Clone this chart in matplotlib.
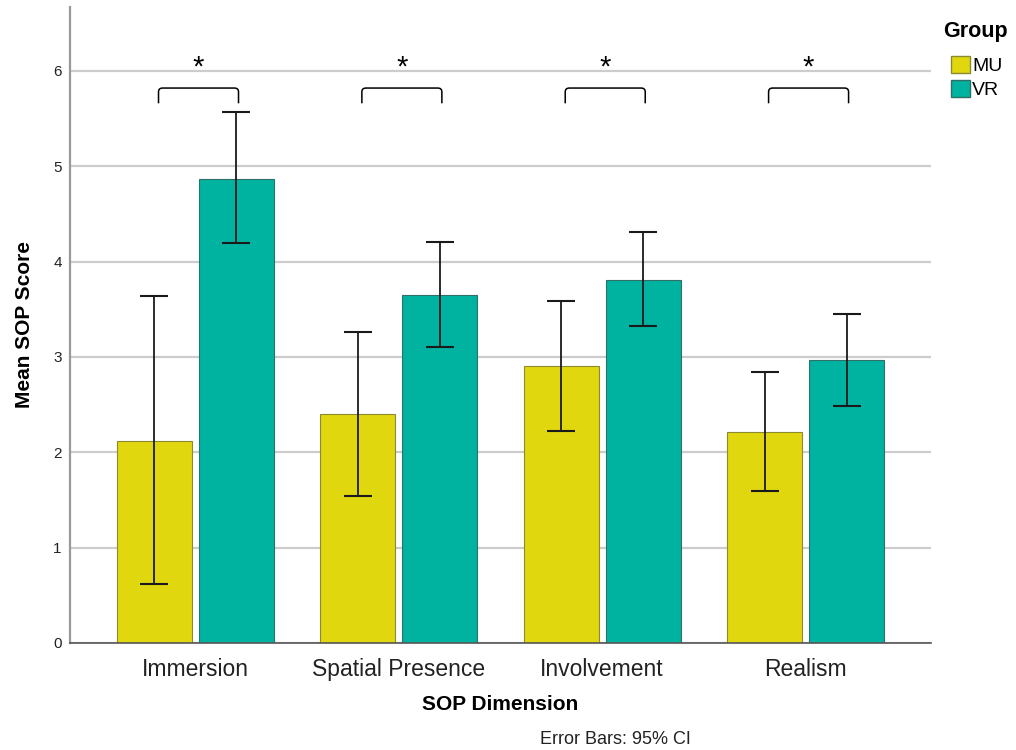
import matplotlib
matplotlib.use("Agg")
import matplotlib.pyplot as plt
from matplotlib.patches import Patch
from matplotlib.path import Path
from matplotlib.patches import PathPatch
import numpy as np

plt.rcParams['font.family'] = ['Liberation Sans', 'DejaVu Sans']

categories = ["Immersion", "Spatial Presence", "Involvement", "Realism"]
groups = ["MU", "VR"]
mu_mean = [2.12, 2.40, 2.91, 2.21]
mu_lo = [0.62, 1.54, 2.22, 1.59]
mu_hi = [3.64, 3.26, 3.59, 2.84]
vr_mean = [4.87, 3.65, 3.81, 2.97]
vr_lo = [4.20, 3.10, 3.32, 2.49]
vr_hi = [5.57, 4.21, 4.31, 3.45]
sig_labels = ["*", "*", "*", "*"]
yticks = [0, 1, 2, 3, 4, 5, 6]

colors = {"MU": "#E1D70F", "VR": "#00B3A0"}
edges = {"MU": "#8a8a30", "VR": "#2f6f66"}

fig = plt.figure(figsize=(10.16, 7.5), dpi=100)
ax = fig.add_axes([70/1016, 1-643/750, (931-70)/1016, (643-7)/750])

x = np.arange(len(categories))
w = 0.369
off = 0.2017

for g, means, lo, hi, sgn in [("MU", mu_mean, mu_lo, mu_hi, -1), ("VR", vr_mean, vr_lo, vr_hi, 1)]:
    xs = x + sgn * off
    ax.bar(xs, means, width=w, color=colors[g], edgecolor=edges[g], linewidth=0.8, zorder=2)
    means_a = np.array(means)
    yerr = np.vstack([means_a - np.array(lo), np.array(hi) - means_a])
    ax.errorbar(xs, means, yerr=yerr, fmt='none', ecolor='#1a1a1a', elinewidth=1.3,
                capsize=10, capthick=1.5, zorder=3)

# significance brackets
for i, lab in enumerate(sig_labels):
    x0 = x[i] - off + 0.02
    x1 = x[i] + off + 0.01
    ytop = 5.82
    ybot = 5.66
    r = 0.02
    verts = [(x0, ybot), (x0, ytop - 0.04), (x0, ytop), (x0 + r, ytop),
             (x1 - r, ytop), (x1, ytop), (x1, ytop - 0.04), (x1, ybot)]
    codes = [Path.MOVETO, Path.LINETO, Path.CURVE3, Path.CURVE3,
             Path.LINETO, Path.CURVE3, Path.CURVE3, Path.LINETO]
    ax.add_patch(PathPatch(Path(verts, codes), fill=False, edgecolor='black', lw=1.1, zorder=4))
    ax.text((x0 + x1) / 2, 6.03, lab, ha='center', va='center', fontsize=21, color='black')

ax.set_xlim(-0.617, 3.617)
ax.set_ylim(0, 6.67)
ax.set_yticks(yticks)
ax.set_yticklabels([str(t) for t in yticks], fontsize=11, color='#222222')
ax.set_xticks(x)
ax.set_xticklabels(categories, fontsize=16.5, color='#222222')
ax.tick_params(axis='both', length=0)
ax.tick_params(axis='y', pad=6)
ax.tick_params(axis='x', pad=11)
ax.yaxis.grid(True, color='#cccccc', linewidth=1.6, zorder=0)
ax.set_axisbelow(True)
for s in ['top', 'right']:
    ax.spines[s].set_visible(False)
ax.spines['left'].set_color('#999999')
ax.spines['left'].set_linewidth(1.6)
ax.spines['bottom'].set_color('#555555')
ax.spines['bottom'].set_linewidth(1.2)

ax.set_ylabel("Mean SOP Score", fontsize=15, fontweight='bold', labelpad=14)
fig.text(500/1016, 1-704/750, "SOP Dimension", fontsize=15, fontweight='bold', ha='center', va='center')
fig.text(615/1016, 1-739/750, "Error Bars: 95% CI", fontsize=13, ha='center', va='center', color='#222222')

fig.text(943/1016, 1-31/750, "Group", fontsize=15.5, fontweight='bold', ha='left', va='center')
handles = [Patch(facecolor=colors[g], edgecolor=edges[g], label=g) for g in groups]
leg = fig.legend(handles=handles, loc='upper left', bbox_to_anchor=(937/1016, 1-42/750),
                 frameon=False, fontsize=14,
                 handlelength=1.0, handleheight=1.0, handletextpad=0.1, labelspacing=0.25,
                 borderpad=0.2)

fig.savefig("out.png", dpi=100)
